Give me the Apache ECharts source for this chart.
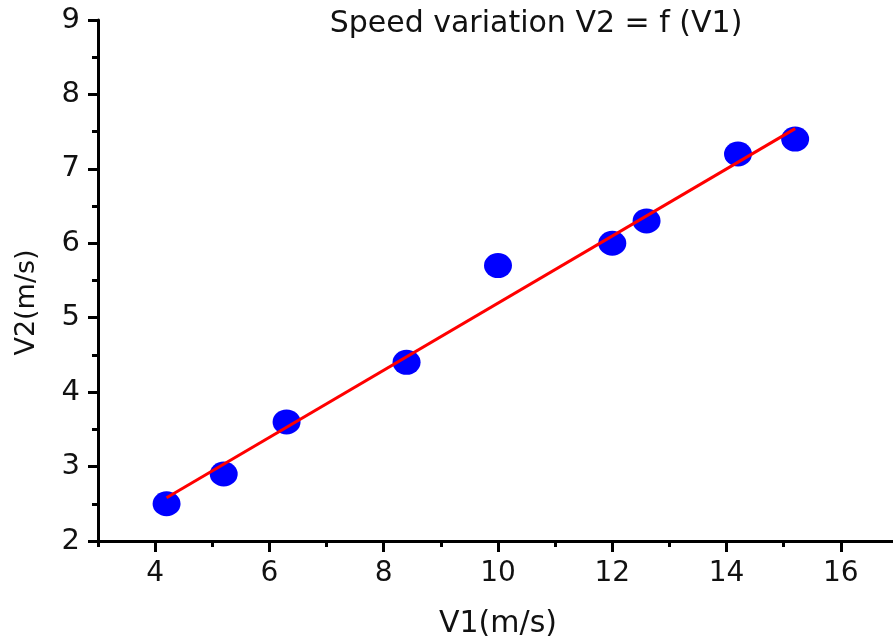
<!DOCTYPE html>
<html>
<head>
<meta charset="utf-8">
<script src="https://cdn.jsdelivr.net/npm/echarts@6/dist/echarts.min.js"></script>
<style>
  html, body { margin: 0; padding: 0; background: #fff; }
  #chart { width: 893px; height: 641px; }
</style>
</head>
<body>
<div id="chart"></div>
<script>
// measured points
var v1 = [4.2, 5.2, 6.3, 8.4, 10.0, 12.0, 12.6, 14.2, 15.2];
var v2 = [2.5, 2.9, 3.6, 4.4, 5.7, 6.0, 6.3, 7.2, 7.4];
// fitted line ends
var fitV1 = [4.2, 15.2];
var fitV2 = [2.58, 7.54];
// tick labels
var xMajor = [4, 6, 8, 10, 12, 14, 16];
var xMinor = [3, 5, 7, 9, 11, 13, 15, 17];

var chart = echarts.init(document.getElementById('chart'));
var font = 'DejaVu Sans';

var points = v1.map(function (x, i) { return [x, v2[i]]; });
var fit = fitV1.map(function (x, i) { return [x, fitV2[i]]; });

var option = {
    backgroundColor: '#fff',
    animation: false,
    title: {
        text: 'Speed variation V2 = f (V1)',
        left: 531,
        top: 4,
        textAlign: 'center',
        textStyle: { fontFamily: font, fontSize: 30, fontWeight: 'normal', color: '#111' }
    },
    grid: { left: 98, right: -5, top: 20, bottom: 100, outerBoundsMode: 'none' },
    xAxis: [{
        type: 'value',
        min: 3,
        max: 17,
        name: 'V1(m/s)',
        nameLocation: 'middle',
        nameGap: 68,
        nameTextStyle: { fontFamily: font, fontSize: 30, color: '#111' },
        splitLine: { show: false },
        axisLine: { lineStyle: { color: '#000', width: 3 } },
        axisTick: { customValues: xMajor, length: 11, lineStyle: { color: '#000', width: 3 } },
        axisLabel: { customValues: xMajor, margin: 19, fontFamily: font, fontSize: 28, color: '#111' }
    }, {
        // short ticks at the odd values
        type: 'value',
        min: 3,
        max: 17,
        position: 'bottom',
        splitLine: { show: false },
        axisLine: { show: false },
        axisTick: { customValues: xMinor, length: 6, lineStyle: { color: '#000', width: 3 } },
        axisLabel: { show: false }
    }],
    yAxis: {
        type: 'value',
        min: 2,
        max: 9,
        interval: 1,
        name: 'V2(m/s)',
        nameLocation: 'middle',
        nameGap: 58,
        nameTextStyle: { fontFamily: font, fontSize: 27, color: '#111', padding: [0, 44, 0, 0] },
        splitLine: { show: false },
        axisLine: { lineStyle: { color: '#000', width: 3 } },
        axisTick: { length: 10, lineStyle: { color: '#000', width: 3 } },
        minorTick: { show: true, splitNumber: 2, length: 6, lineStyle: { color: '#000', width: 3 } },
        minorSplitLine: { show: false },
        axisLabel: { margin: 18, fontFamily: font, fontSize: 29, color: '#111' }
    },
    series: [{
        type: 'scatter',
        data: points,
        symbol: 'circle',
        symbolSize: [28, 25],
        itemStyle: { color: '#0000ff', opacity: 1 },
        z: 2
    }, {
        type: 'line',
        data: fit,
        showSymbol: false,
        symbol: 'none',
        lineStyle: { color: '#ff0000', width: 3 },
        z: 3
    }]
};

chart.setOption(option);
</script>
</body>
</html>
